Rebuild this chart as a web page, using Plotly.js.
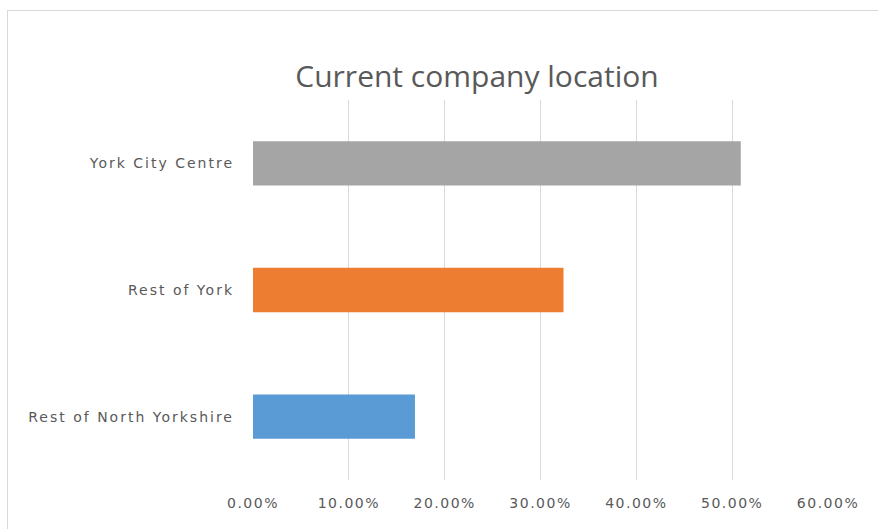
<!DOCTYPE html>
<html>
<head>
<meta charset="utf-8">
<script src="https://cdn.plot.ly/plotly-3.0.1.min.js"></script>
<style>
html,body{margin:0;padding:0;background:#fff;}
#chart{width:878px;height:529px;position:relative;}
#frame{position:absolute;left:7px;top:10px;width:900px;height:600px;border:1px solid #d9d9d9;pointer-events:none;}
#chart .ytick text{letter-spacing:2px;}
#chart .xtick text{letter-spacing:1.5px;}
</style>
</head>
<body>
<div id="chart"></div>
<div id="frame"></div>
<script>
const categories = ["Rest of North Yorkshire", "Rest of York", "York City Centre"];
const values = [0.169, 0.324, 0.509];
const barColors = ["#5b9bd5", "#ed7d31", "#a5a5a5"];
const xTicks = [0, 0.1, 0.2, 0.3, 0.4, 0.5, 0.6];

const trace = {
  type: "bar",
  orientation: "h",
  y: categories,
  x: values,
  marker: {color: barColors, line: {width: 0}},
  hoverinfo: "none"
};

const layout = {
  width: 878,
  height: 529,
  margin: {l: 253, r: 50, t: 100, b: 49, pad: 0},
  paper_bgcolor: "#ffffff",
  plot_bgcolor: "#ffffff",
  showlegend: false,
  bargap: 0.65,
  title: {
    text: "Current company location",
    x: 477 / 878, xref: "container", xanchor: "center",
    y: 1 - 76 / 529, yref: "container", yanchor: "middle",
    font: {family: "Open Sans, sans-serif", size: 30, color: "#595959"}
  },
  xaxis: {
    range: [0, 0.6],
    tickvals: xTicks,
    tickformat: ".2%",
    showgrid: true,
    gridcolor: "#d9d9d9",
    gridwidth: 1,
    zeroline: false,
    showline: false,
    ticks: "",
    ticklabelstandoff: 13,
    tickfont: {family: "DejaVu Sans, sans-serif", size: 14, color: "#595959"}
  },
  yaxis: {
    type: "category",
    showgrid: false,
    zeroline: false,
    showline: false,
    ticks: "",
    ticklabelstandoff: 18,
    tickfont: {family: "DejaVu Sans, sans-serif", size: 14, color: "#595959"}
  }
};

Plotly.newPlot("chart", [trace], layout, {displayModeBar: false, staticPlot: true});
</script>
</body>
</html>
